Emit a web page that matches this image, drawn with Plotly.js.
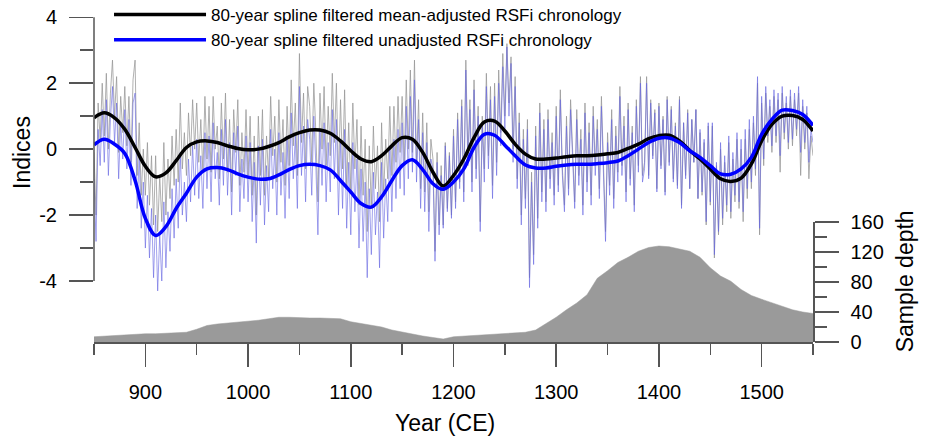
<!DOCTYPE html>
<html><head><meta charset="utf-8">
<script src="https://cdn.plot.ly/plotly-3.0.1.min.js"></script>
<style>html,body{margin:0;padding:0;background:#fff}#chart{width:928px;height:437px}</style>
</head><body><div id="chart"></div>
<script>
// Annual RSFi values (every 2nd year, 850..1550)
const annualFirstYear = 850;
const annualStepYears = 2;
const unadjustedAnnual = [
 -0.9,-2.8,0.6,-0.5,1.2, -0.4,1.5,-0.8,0.9,1.9, 0.2,1.4,-0.9,0.8,-0.3, 1.2,-0.6,0.9,-1.1,1.4, 1.7,-1.8,-0.2,-2.4,-1.0,
 -3.0,-1.4,-3.3,-1.8,-3.9, -2.0,-4.3,-2.6,-4.0,-1.6, -3.6,-1.9,-3.1,-1.2,-2.7, -0.9,-2.4,-0.1,-2.0,-1.0, -2.2,-0.3,-1.6,0.1,-1.4,
 0.3,-1.5,-0.2,-1.8,0.5, -1.2,0.4,-1.6,0.8,-0.9, -0.1,-1.7,0.6,-1.1,0.9, -1.4,0.2,-2.0,0.5,-0.8, 0.7,-1.9,-0.3,-1.5,0.4,
 -1.6,0.2,-2.2,-0.4,-2.85, 0.1,-1.7,0.3,-2.3,-0.5, -1.9,0.6,-1.2,0.0,-2.0, 0.5,-1.4,-0.1,-2.1,0.3, -1.5,1.1,-0.9,0.4,-1.8,
 1.9,-0.8,0.7,-1.6,0.9, 0.3,-1.4,1.0,-0.5,-2.6, 0.6,-1.1,0.8,-1.6,0.2, -1.3,1.2,-0.9,0.9,-2.0, 0.3,-1.8,0.6,-2.4,-0.4,
 -2.6,0.2,-1.9,-0.3,-3.0, -0.6,-2.8,-1.0,-3.9,-1.2, -3.2,-0.7,-2.6,-1.3,-3.6, -0.4,-2.7,-0.9,-2.2,0.1, -1.9,0.3,-1.5,0.6,-1.2,
 0.8,-1.4,1.3,-0.9,1.6, -0.7,2.1,-1.0,0.9,-1.8, 0.5,-1.9,0.2,-2.5,-0.3, -0.6,-3.4,-0.4,-2.6,-0.8, -2.4,0.1,-1.9,-0.2,-2.1,
 0.4,-1.8,0.9,-1.2,1.3, -1.6,2.4,-0.5,1.2,-1.3, 1.8,-0.9,1.0,-2.5,0.7, -1.0,1.9,-0.6,1.5,-1.5, 1.6,-0.8,2.0,0.1,2.5,
 0.6,3.1,1.0,2.6,-0.4, 1.9,-1.2,0.8,-2.3,0.3, -1.8,0.6,-4.2,-1.0,-3.5, 0.4,-2.4,1.1,-1.6,0.6, -1.9,0.9,-1.2,0.2,-1.7,
 1.0,-1.3,1.5,-0.8,-1.9, 0.7,-1.4,1.2,-0.6,-1.8, 0.9,-1.1,0.3,-2.0,1.1, -1.3,0.5,-1.7,1.0,-0.8, 0.6,-1.5,1.3,-1.1,-2.8,
 0.2,-1.4,0.9,-1.8,0.4, -1.0,1.6,-0.8,0.7,-1.6, 1.2,-1.1,0.5,-1.9,1.3, -0.7,2.0,-1.0,-0.6,2.0, -0.9,1.4,-0.3,1.1,-1.3,
 1.3,-0.6,0.9,-1.4,1.5, -0.5,1.2,-1.0,0.7,-1.2, 1.5,-1.8,0.8,-0.9,1.1, -1.2,0.9,-0.4,1.2,-1.5, 0.6,-1.3,0.3,-2.2,0.8,
 -1.6,0.8,-3.2,-0.4,-2.5, 0.2,-2.1,-0.2,-1.7,0.4, -1.9,-0.1,-1.4,0.5,-1.6, 0.3,-1.9,0.6,-1.2,0.9, -1.0,1.0,-0.6,2.2,-2.4,
 1.6,-0.3,1.9,0.4,1.5, 0.1,1.8,0.4,1.7,-0.2, 1.9,0.5,1.6,0.2,1.8, 0.3,1.7,0.6,1.9,-0.1, 1.5,0.2,1.3,-0.4,0.6,
 0.2
];
const meanAdjustedAnnual = [
 -0.1,-2.0,1.4,0.3,2.0, 0.4,2.3,0.0,1.7,2.7, 1.0,2.2,-0.1,1.6,0.5, 1.9,0.1,1.6,-0.4,2.1, 2.7,-0.8,0.8,-1.4,0.0,
 -1.4,0.2,-1.7,-0.2,-2.3, -0.2,-2.5,-0.8,-2.2,0.2, -2.0,-0.3,-1.5,0.4,-1.1, 0.6,-1.0,1.4,-0.6,0.5, -0.8,1.1,-0.2,1.5,0.0,
 1.4,-0.4,0.9,-0.7,1.6, -0.3,1.3,-0.7,1.6,0.0, 0.7,-0.9,1.4,-0.3,1.7, -0.7,0.9,-1.3,1.2,-0.1, 1.5,-1.1,0.5,-0.7,1.2,
 -0.8,1.0,-1.4,0.4,-2.0, 1.0,-0.8,1.2,-1.4,0.4, -0.9,1.6,-0.2,1.0,-1.0, 1.5,-0.4,0.9,-1.1,1.3, -0.5,2.1,0.1,1.4,-0.8,
 2.9,0.2,1.7,-0.6,1.9, 1.3,-0.4,2.0,0.5,-1.6, 1.7,0.0,1.9,-0.5,1.3, -0.2,2.3,0.2,2.0,-0.9, 1.5,-0.6,1.8,-1.2,0.8,
 -1.3,1.4,-0.6,0.9,-1.7, 0.7,-1.4,0.3,-2.5,0.1, -1.8,0.7,-1.2,0.1,-2.2, 0.8,-1.4,0.3,-0.9,1.3, -0.8,1.3,-0.4,1.6,-0.1,
 1.6,-0.5,2.1,0.0,2.4, -0.1,2.7,-0.4,1.5,-1.2, 1.1,-1.3,0.8,-1.9,0.3, -0.3,-3.1,-0.1,-2.3,-0.5, -2.3,0.2,-1.8,-0.1,-2.0,
 0.6,-1.6,1.1,-1.0,1.5, -1.3,2.7,-0.2,1.5,-1.0, 2.1,-0.6,1.3,-2.2,1.0, -0.6,2.3,-0.2,1.9,-1.1, 2.0,-0.4,2.4,0.5,2.9,
 1.0,3.2,1.4,2.8,0.0, 2.2,-0.9,1.1,-2.0,0.6, -1.5,0.9,-3.9,-0.7,-3.2, 0.7,-2.1,1.4,-1.3,0.9, -1.6,1.2,-0.9,0.5,-1.4,
 1.3,-1.1,1.8,-0.6,-1.7, 1.0,-1.2,1.5,-0.4,-1.6, 1.2,-0.8,0.6,-1.7,1.4, -1.0,0.8,-1.4,1.3,-0.5, 0.9,-1.2,1.6,-0.8,-2.5,
 0.5,-1.1,1.2,-1.5,0.7, -0.7,1.9,-0.5,1.0,-1.3, 1.4,-0.9,0.7,-1.7,1.5, -0.5,2.2,-0.8,-0.4,2.2, -0.8,1.5,-0.2,1.2,-1.2,
 1.4,-0.5,1.0,-1.3,1.6, -0.4,1.3,-0.9,0.8,-1.1, 1.6,-1.7,0.8,-0.8,1.2, -1.2,0.9,-0.4,1.2,-1.5, 0.5,-1.4,0.2,-2.3,0.7,
 -1.7,0.7,-3.3,-0.5,-2.6, 0.0,-2.3,-0.4,-1.9,0.2, -2.1,-0.3,-1.6,0.3,-1.8, 0.0,-2.2,0.3,-1.5,0.6, -1.2,0.8,-0.8,2.0,-2.6,
 1.4,-0.5,1.7,0.2,1.3, -0.1,1.6,0.2,1.5,-0.7, 1.7,0.3,1.4,0.0,1.6, 0.1,1.5,0.4,1.7,-0.8, 1.3,0.0,1.1,-0.9,0.4,
 -0.2
];

// 80-year spline curves and sample depth, every 10 years 850..1550
const decadeYears = [850,860,870,880,890,900,910,920,930,940,950,960,970,980,990,
 1000,1010,1020,1030,1040,1050,1060,1070,1080,1090,1100,1110,1120,1130,1140,1150,1160,1170,1180,1190,
 1200,1210,1220,1230,1240,1250,1260,1270,1280,1290,1300,1310,1320,1330,1340,1350,1360,1370,1380,1390,
 1400,1410,1420,1430,1440,1450,1460,1470,1480,1490,1500,1510,1520,1530,1540,1550];
const splineMeanAdjusted = [0.95,1.1,0.95,0.6,0.05,-0.52,-0.84,-0.72,-0.35,0.05,0.22,0.25,0.2,0.1,0.02,
 -0.02,0.0,0.08,0.2,0.37,0.5,0.58,0.58,0.48,0.25,-0.05,-0.3,-0.38,-0.2,0.1,0.35,0.3,-0.1,-0.7,-1.12,
 -0.8,-0.3,0.35,0.82,0.85,0.55,0.15,-0.15,-0.3,-0.3,-0.27,-0.23,-0.2,-0.2,-0.18,-0.14,-0.1,0.02,0.15,0.32,
 0.41,0.42,0.25,-0.04,-0.3,-0.6,-0.9,-0.98,-0.88,-0.45,0.25,0.75,1.0,1.02,0.9,0.55];
const splineUnadjusted = [0.13,0.3,0.15,-0.13,-0.95,-2.1,-2.62,-2.35,-1.8,-1.34,-0.85,-0.6,-0.56,-0.62,-0.75,
 -0.85,-0.91,-0.9,-0.78,-0.62,-0.5,-0.46,-0.5,-0.63,-0.95,-1.3,-1.65,-1.76,-1.45,-0.95,-0.5,-0.32,-0.62,-1.05,-1.22,
 -1.0,-0.6,0.05,0.45,0.42,0.12,-0.2,-0.48,-0.57,-0.57,-0.52,-0.48,-0.46,-0.46,-0.44,-0.41,-0.36,-0.2,0.0,0.2,
 0.33,0.34,0.2,-0.05,-0.25,-0.5,-0.75,-0.76,-0.6,-0.25,0.45,0.9,1.18,1.17,1.05,0.72];
const sampleDepth = [7,8,9,9,10,11,11,12,12,13,17,22,24,25,26,
 28,29,31,33,33,32,32,32,32,31,27,25,22,20,16,13,10,8,6,4,
 7,8,9,10,11,11,12,13,16,24,33,43,52,63,85,95,106,113,121,126,
 128,127,124,121,113,99,88,81,70,62,57,52,48,43,40,38];

const indexTicks = [-4,-2,0,2,4];
const indexTickText = ['-4','-2','0','2','4'];
const indexMinorTicks = [-3,-1,1,3];
const yearTicks = [900,1000,1100,1200,1300,1400,1500];
const yearMinorTicks = [850,950,1050,1150,1250,1350,1450,1550];
const depthTicks = [0,40,80,120,160];
const depthMinorTicks = [20,60,100,140];

const annualYears = [];
for (let i = 0; i < unadjustedAnnual.length; i++) annualYears.push(annualFirstYear + i * annualStepYears);

const FONT = 'Arial, "Liberation Sans", sans-serif';
const AX = '#555';

const traces = [
  {x: annualYears, y: meanAdjustedAnnual, type: 'scatter', mode: 'lines', name: 'mean-adjusted annual',
   line: {color: 'rgba(150,150,150,0.75)', width: 1}, showlegend: false, hoverinfo: 'skip', xaxis: 'x', yaxis: 'y'},
  {x: annualYears, y: unadjustedAnnual, type: 'scatter', mode: 'lines', name: 'unadjusted annual',
   line: {color: 'rgba(100,100,225,0.6)', width: 1}, showlegend: false, hoverinfo: 'skip', xaxis: 'x', yaxis: 'y'},
  {x: decadeYears, y: splineMeanAdjusted, type: 'scatter', mode: 'lines',
   name: '80-year spline filtered mean-adjusted RSFi chronology',
   line: {color: '#000', width: 3.5, shape: 'spline', smoothing: 1}, xaxis: 'x', yaxis: 'y'},
  {x: decadeYears, y: splineUnadjusted, type: 'scatter', mode: 'lines',
   name: '80-year spline filtered unadjusted RSFi chronology',
   line: {color: '#0000ff', width: 3.5, shape: 'spline', smoothing: 1}, xaxis: 'x', yaxis: 'y'},
  {x: decadeYears, y: sampleDepth, type: 'scatter', mode: 'lines', name: 'Sample depth',
   fill: 'tozeroy', fillcolor: '#9a9a9a', line: {color: '#9a9a9a', width: 0.5}, showlegend: false,
   xaxis: 'x', yaxis: 'y2'}
];

const layout = {
  width: 928, height: 437,
  margin: {l: 94, r: 115, t: 10, b: 95, autoexpand: false},
  paper_bgcolor: '#fff', plot_bgcolor: 'rgba(0,0,0,0)',
  font: {family: FONT, color: '#000', size: 20},
  showlegend: true,
  legend: {x: 0.0209, y: 1.039, xanchor: 'left', yanchor: 'top', bgcolor: 'rgba(0,0,0,0)',
           font: {size: 17, family: FONT, color: '#000'}, itemwidth: 92, traceorder: 'normal'},
  xaxis: {range: [850, 1550], anchor: 'y', showline: true, linecolor: AX, linewidth: 1.5,
          ticks: 'outside', ticklen: 23, tickwidth: 1.5, tickcolor: AX,
          tickmode: 'array', tickvals: yearTicks, ticklabelstandoff: 8,
          showgrid: false, zeroline: false, tickfont: {size: 20},
          minor: {tickmode: 'array', tickvals: yearMinorTicks, ticks: 'outside', ticklen: 11,
                  tickwidth: 1.5, tickcolor: AX, showgrid: false}},
  yaxis: {range: [-5.85, 4.22], domain: [0, 1], anchor: 'x', showline: false,
          ticks: 'outside', ticklen: 24, tickwidth: 1.5, tickcolor: AX,
          tickmode: 'array', tickvals: indexTicks, ticktext: indexTickText, ticklabelstandoff: 8,
          showgrid: false, zeroline: false, tickfont: {size: 20},
          minor: {tickmode: 'array', tickvals: indexMinorTicks, ticks: 'outside', ticklen: 13,
                  tickwidth: 1.5, tickcolor: AX, showgrid: false}},
  yaxis2: {range: [0, 160], domain: [0, 0.3614], anchor: 'x', side: 'right', showline: true,
           linecolor: AX, linewidth: 1.5, ticks: 'outside', ticklen: 24, tickwidth: 1.5, tickcolor: AX,
           tickmode: 'array', tickvals: depthTicks, ticklabelstandoff: 8,
           showgrid: false, zeroline: false, tickfont: {size: 20},
           minor: {tickmode: 'array', tickvals: depthMinorTicks, ticks: 'outside', ticklen: 12,
                   tickwidth: 1.5, tickcolor: AX, showgrid: false}},
  shapes: [{type: 'line', xref: 'paper', yref: 'y', x0: 0, x1: 0, y0: -4, y1: 4,
            line: {color: AX, width: 1.5}}],
  annotations: [
    {text: 'Indices', xref: 'paper', yref: 'y', x: -0.0994, y: -0.1, xanchor: 'center', yanchor: 'middle',
     textangle: -90, showarrow: false, font: {size: 23, family: FONT}},
    {text: 'Sample depth', xref: 'paper', yref: 'y2', x: 1.128, y: 81, xanchor: 'center', yanchor: 'middle',
     textangle: -90, showarrow: false, font: {size: 23, family: FONT}},
    {text: 'Year (CE)', xref: 'x', yref: 'paper', x: 1192, y: -0.244, xanchor: 'center', yanchor: 'middle',
     showarrow: false, font: {size: 23, family: FONT}}
  ]
};

Plotly.newPlot('chart', traces, layout, {displayModeBar: false, staticPlot: true});
</script>
</body></html>
